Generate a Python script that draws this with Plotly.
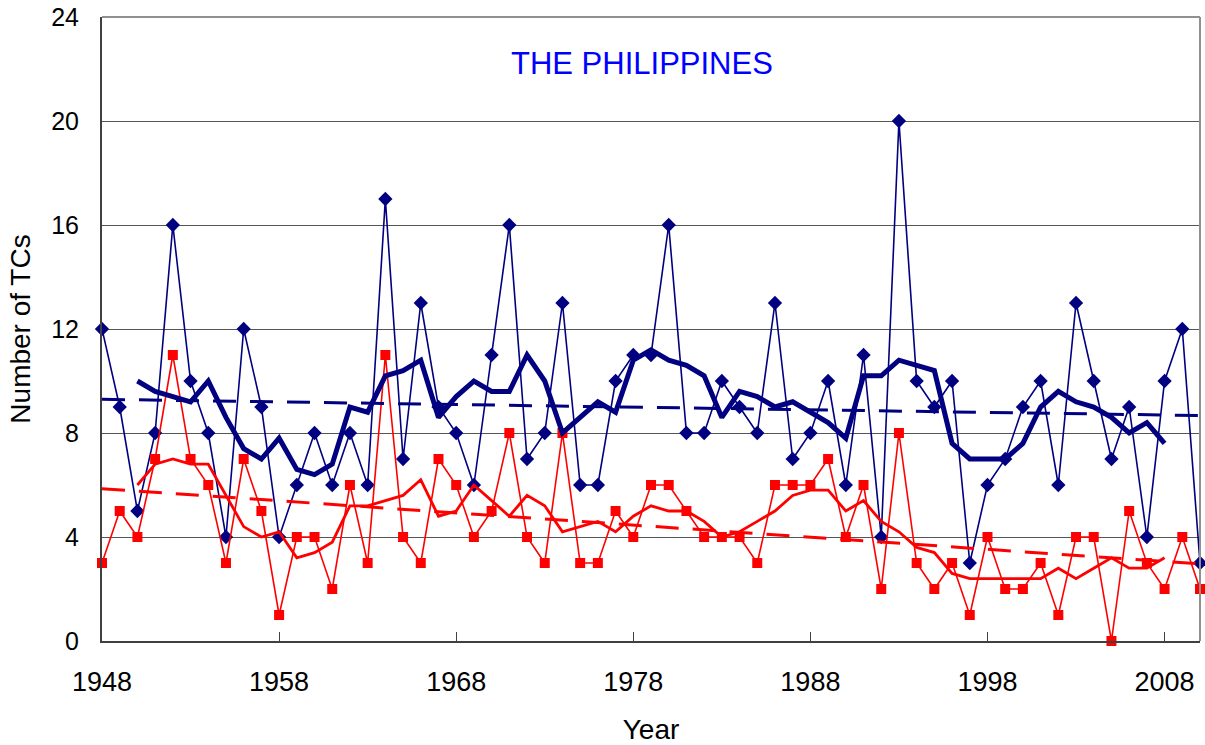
import numpy as np
import pandas as pd
import plotly.graph_objects as go

years = list(range(1948, 2011))

# Total TCs affecting the Philippines (blue diamonds)
total_tcs = [12, 9, 5, 8, 16, 10, 8, 4, 12, 9,
             4, 6, 8, 6, 8, 6, 17, 7, 13, 9,
             8, 6, 11, 16, 7, 8, 13, 6, 6, 10,
             11, 11, 16, 8, 8, 10, 9, 8, 13, 7,
             8, 10, 6, 11, 4, 20, 10, 9, 10, 3,
             6, 7, 9, 10, 6, 13, 10, 7, 9, 4,
             10, 12, 3]

# Second series (red squares)
strong_tcs = [3, 5, 4, 7, 11, 7, 6, 3, 7, 5,
              1, 4, 4, 2, 6, 3, 11, 4, 3, 7,
              6, 4, 5, 8, 4, 3, 8, 3, 3, 5,
              4, 6, 6, 5, 4, 4, 4, 3, 6, 6,
              6, 7, 4, 6, 2, 8, 3, 2, 3, 1,
              4, 2, 2, 3, 1, 4, 4, 0, 5, 3,
              2, 4, 2]

x_ticks = [1948, 1958, 1968, 1978, 1988, 1998, 2008]
y_ticks = [0, 4, 8, 12, 16, 20, 24]

BLUE = "#000080"
RED = "#FF0000"

# 5-year centred running means and linear trends derived from the series
blue_ma = pd.Series(total_tcs).rolling(5, center=True).mean()
red_ma = pd.Series(strong_tcs).rolling(5, center=True).mean()
bfit = np.polyfit(years, total_tcs, 1)
rfit = np.polyfit(years, strong_tcs, 1)
trend_x = [years[0], years[-1]]
blue_trend = np.polyval(bfit, trend_x)
red_trend = np.polyval(rfit, trend_x)

fig = go.Figure()

fig.add_trace(go.Scatter(x=years, y=total_tcs, mode="lines+markers",
                         line=dict(color=BLUE, width=1.6),
                         marker=dict(symbol="diamond", size=11, color=BLUE),
                         cliponaxis=False))
fig.add_trace(go.Scatter(x=years, y=strong_tcs, mode="lines+markers",
                         line=dict(color=RED, width=1.6),
                         marker=dict(symbol="square", size=10, color=RED),
                         cliponaxis=False))
fig.add_trace(go.Scatter(x=years, y=blue_ma, mode="lines",
                         line=dict(color=BLUE, width=5)))
fig.add_trace(go.Scatter(x=years, y=red_ma, mode="lines",
                         line=dict(color=RED, width=2.8)))
fig.add_trace(go.Scatter(x=trend_x, y=blue_trend, mode="lines",
                         line=dict(color=BLUE, width=3, dash="23px,14px")))
fig.add_trace(go.Scatter(x=trend_x, y=red_trend, mode="lines",
                         line=dict(color=RED, width=3, dash="23px,14px")))

font_family = "Liberation Sans, Arial, sans-serif"

fig.update_layout(
    width=1205, height=745,
    margin=dict(l=102, r=5, t=17, b=104),
    paper_bgcolor="white", plot_bgcolor="white",
    showlegend=False,
    font=dict(family=font_family, color="black"),
    xaxis=dict(range=[1948, 2010], tickvals=x_ticks, automargin=False,
               ticks="inside", ticklen=9, tickcolor="#404040", tickwidth=1,
               showgrid=False, showline=True, linecolor="#404040", linewidth=2,
               zeroline=False, tickfont=dict(size=27, family=font_family),
               ticklabelstandoff=16,
               title=dict(text="Year", font=dict(size=28, family=font_family), standoff=24)),
    yaxis=dict(range=[0, 24], tickvals=y_ticks, automargin=False,
               ticks="", showgrid=True, gridcolor="#555555", gridwidth=1.2,
               showline=True, linecolor="#404040", linewidth=2,
               zeroline=False, tickfont=dict(size=25, family=font_family),
               ticklabelstandoff=16,
               title=dict(text="Number of TCs", font=dict(size=28, family=font_family), standoff=12)),
    shapes=[
        dict(type="line", xref="paper", yref="paper", x0=0, x1=1, y0=1, y1=1,
             line=dict(color="#909090", width=2)),
        dict(type="line", xref="paper", yref="paper", x0=1, x1=1, y0=0, y1=1,
             line=dict(color="#909090", width=2)),
    ],
    annotations=[
        dict(text="THE PHILIPPINES", xref="paper", yref="paper",
             x=0.4915, y=0.925, xanchor="center", yanchor="middle", showarrow=False,
             font=dict(size=31, color="#0000FF", family=font_family)),
    ],
)

fig.write_html("out.html", config={"displayModeBar": False},
               post_script="document.body.style.margin='0';document.body.style.overflow='hidden';")
